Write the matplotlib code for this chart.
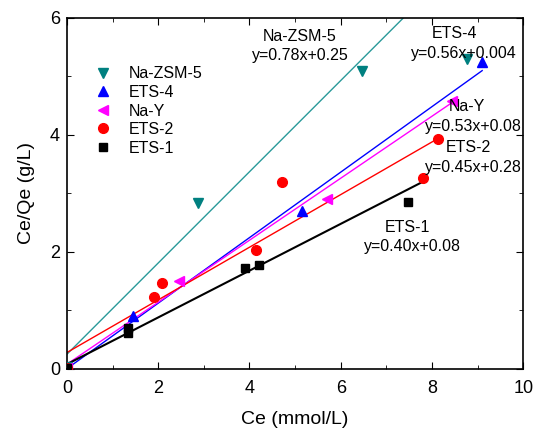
import numpy as np
import matplotlib.pyplot as plt
from matplotlib.ticker import MultipleLocator

plt.rcParams['font.family'] = ['Liberation Sans', 'DejaVu Sans']

# данные (Ce, Ce/Qe)
zsm_x = [0.0, 2.87, 6.47, 8.77]
zsm_y = [0.03, 2.84, 5.09, 5.30]
ets4_x = [0.0, 1.45, 5.15, 9.10]
ets4_y = [0.02, 0.91, 2.70, 5.25]
nay_x = [0.0, 2.46, 5.70, 8.44]
nay_y = [0.02, 1.50, 2.91, 4.58]
ets2_x = [0.0, 1.91, 2.08, 4.14, 4.71, 7.81, 8.14]
ets2_y = [0.02, 1.23, 1.47, 2.03, 3.19, 3.27, 3.93]
ets1_x = [0.0, 1.33, 1.33, 3.90, 4.21, 7.48]
ets1_y = [0.02, 0.62, 0.70, 1.72, 1.78, 2.86]

# линейные аппроксимации: (наклон, свободный член, конец по x)
fits = {
    'Na-ZSM-5': (0.78, 0.25, 10.0),
    'ETS-4': (0.56, 0.004, 9.10),
    'Na-Y': (0.53, 0.08, 8.46),
    'ETS-2': (0.45, 0.28, 8.14),
    'ETS-1': (0.40, 0.08, 7.80),
}

fig = plt.figure(figsize=(5.35, 4.28), dpi=100)
ax = fig.add_axes([0.125, 0.138, 0.853, 0.820])

ax.plot(zsm_x, zsm_y, 'v', color='#008080', ms=7, label='Na-ZSM-5', zorder=3)
ax.plot(ets4_x, ets4_y, '^', color='blue', ms=7, label='ETS-4', zorder=3)
ax.plot(nay_x, nay_y, '<', color='magenta', ms=7, label='Na-Y', zorder=3)
ax.plot(ets2_x, ets2_y, 'o', color='red', ms=7, label='ETS-2', zorder=3)
ax.plot(ets1_x, ets1_y, 's', color='black', ms=6, label='ETS-1', zorder=3)

line_colors = {'Na-ZSM-5': '#2a9a9a', 'ETS-4': 'blue', 'Na-Y': 'magenta',
               'ETS-2': 'red', 'ETS-1': 'black'}
for name, (k, b, xe) in fits.items():
    xx = np.array([0.0, xe])
    lw = 1.5 if name == 'ETS-1' else 1.0
    ax.plot(xx, k * xx + b, '-', color=line_colors[name], lw=lw, zorder=2)

fs = 11.5
ax.text(5.11, 5.69, 'Na-ZSM-5', ha='center', va='center', fontsize=fs)
ax.text(5.11, 5.36, 'y=0.78x+0.25', ha='center', va='center', fontsize=fs)
ax.text(8.5, 5.74, 'ETS-4', ha='center', va='center', fontsize=fs)
ax.text(8.69, 5.40, 'y=0.56x+0.004', ha='center', va='center', fontsize=fs)
ax.text(8.77, 4.48, 'Na-Y', ha='center', va='center', fontsize=fs)
ax.text(8.9, 4.14, 'y=0.53x+0.08', ha='center', va='center', fontsize=fs)
ax.text(8.79, 3.78, 'ETS-2', ha='center', va='center', fontsize=fs)
ax.text(8.9, 3.44, 'y=0.45x+0.28', ha='center', va='center', fontsize=fs)
ax.text(7.46, 2.41, 'ETS-1', ha='center', va='center', fontsize=fs)
ax.text(7.57, 2.09, 'y=0.40x+0.08', ha='center', va='center', fontsize=fs)

ax.set_xlim(0, 10)
ax.set_ylim(0, 6)
ax.xaxis.set_major_locator(MultipleLocator(2))
ax.xaxis.set_minor_locator(MultipleLocator(1))
ax.yaxis.set_major_locator(MultipleLocator(2))
ax.yaxis.set_minor_locator(MultipleLocator(1))
ax.tick_params(which='both', direction='in', top=True, right=True, labelsize=13)
ax.tick_params(axis='x', which='major', pad=8)
ax.tick_params(axis='y', which='major', pad=5)
ax.tick_params(which='major', length=5)
ax.tick_params(which='minor', length=3)
for sp in ax.spines.values():
    sp.set_linewidth(1.2)

ax.set_xlabel('Ce (mmol/L)', fontsize=14, labelpad=10)
ax.set_ylabel('Ce/Qe (g/L)', fontsize=14, labelpad=11)

ax.legend(loc='upper left', bbox_to_anchor=(0.03, 0.88), frameon=False,
          fontsize=11.5, handletextpad=0.6, labelspacing=0.22, borderaxespad=0)

fig.savefig('out.png', dpi=100)
